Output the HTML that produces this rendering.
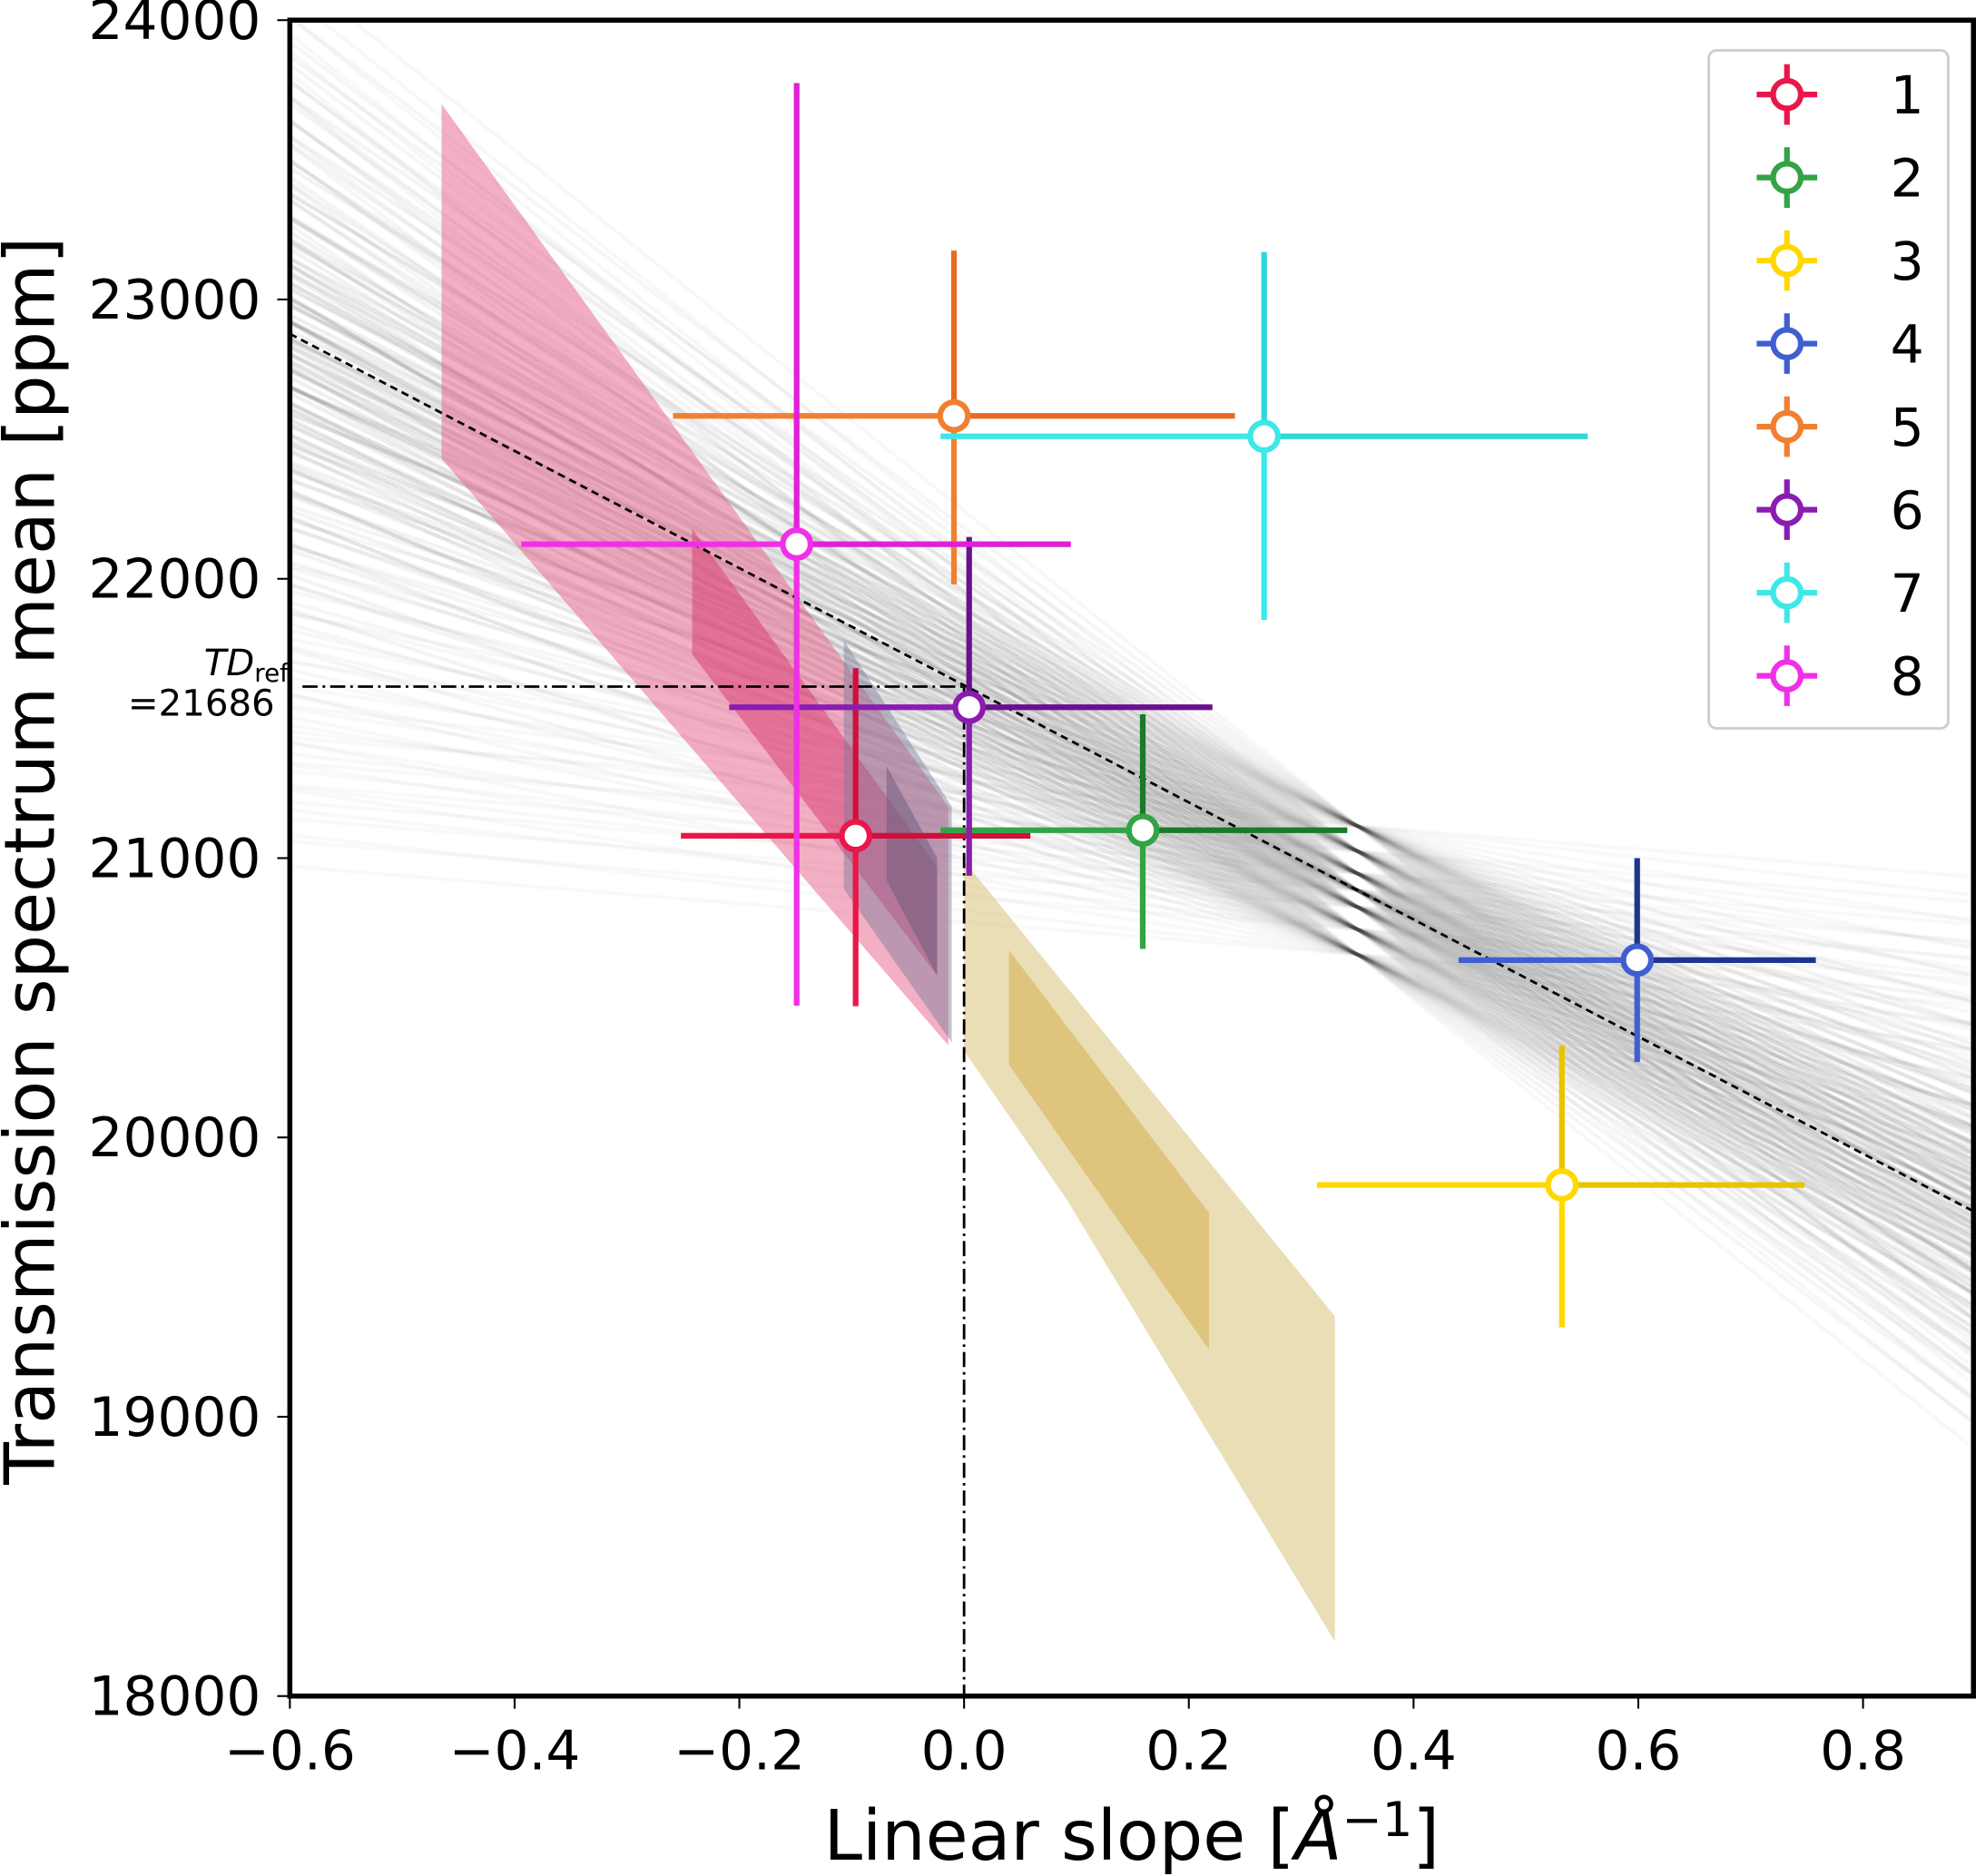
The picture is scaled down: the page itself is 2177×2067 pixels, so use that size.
<!DOCTYPE html>
<html><head><meta charset="utf-8"><style>html,body{margin:0;padding:0;background:#fff}svg{display:block}text{font-family:"DejaVu Sans","Liberation Sans",sans-serif}</style></head>
<body>
<svg id="chart" width="2177" height="2067" viewBox="0 0 1568 1488.8" xmlns="http://www.w3.org/2000/svg">
<defs><clipPath id="clip"><rect x="230" y="16" width="1336" height="1330"/></clipPath></defs>
<g id="bg" clip-path="url(#clip)"></g>
<g id="regions" clip-path="url(#clip)"></g>
<g id="refs"></g>
<g id="points"></g>
<g id="axes"></g>
<g id="legend"></g>
</svg>
<script>
const xTicks=[-0.6,-0.4,-0.2,0.0,0.2,0.4,0.6,0.8];
const yTicks=[18000,19000,20000,21000,22000,23000,24000];
const labels=["1","2","3","4","5","6","7","8"];
const colors=["#e8174a","#33a345","#ffd800","#3f5fd0","#f08030","#8a1cb0","#3fe8e8","#f030e8"];
const darkColors=["#d0103c","#1a7a28","#e8c400","#1e3590","#e86a20","#6a0f8f","#30d8d8","#e020d8"];
const xVals=[-0.0965,0.159,0.532,0.599,-0.009,0.0045,0.267,-0.149];
const yVals=[21080,21100,19830,20635,22583,21540,22510,22124];
const xLo=[-0.252,-0.021,0.314,0.440,-0.259,-0.209,-0.021,-0.394];
const xHi=[0.059,0.341,0.748,0.758,0.241,0.221,0.555,0.095];
const yLo=[20470,20675,19320,20270,21980,20937,21853,20472];
const yHi=[21680,21515,20330,21000,23175,22150,23170,23775];
const fitLine=[[-0.6,22877],[0.9,19732]];
const tdRef=21614, tdLabel="=21686";
const sampleSlopes=[-3226,-3050,-2900,-2750,-2600,-2480,-2380,-2290,-2210,-2140,-2080,-2020,-1960,-1900,-1830,-1750,-1650,-1550,-1430,-1300,-1150,-980,-800,-620,-450,-332];
const sampleOffsets=[-230,-140,-60,0,60,140,230];
const pinkOuter=[[-0.465,23700],[-0.014,21185],[-0.014,20330],[-0.465,22430]];
const pinkInner=[[-0.242,22180],[-0.024,20970],[-0.024,20580],[-0.242,21730]];
const grayOuter=[[-0.107,21780],[-0.011,21185],[-0.011,20340],[-0.107,20890]];
const grayInner=[[-0.069,21330],[-0.024,21000],[-0.024,20580],[-0.069,20920]];
const tanOuter=[[0.0,20990],[0.330,19360],[0.330,18195],[0.091,19780],[0.0,20310]];
const tanInner=[[0.040,20670],[0.218,19730],[0.218,19240],[0.040,20260]];
const NS="http://www.w3.org/2000/svg";
const X=v=>230+(v+0.6)*891.7, Y=v=>16+(24000-v)*0.22167;
function mk(tag,attrs,parent){const e=document.createElementNS(NS,tag);for(const k in attrs)e.setAttribute(k,attrs[k]);parent.appendChild(e);return e;}
const bg=document.getElementById('bg');
sampleSlopes.forEach((s,i)=>{sampleOffsets.forEach(o=>{const a=20885+o;const w=1-Math.abs(s+2050)/1300;
const l=mk('line',{x1:X(-0.6),y1:Y(a+s*(-0.95)),x2:X(0.9),y2:Y(a+s*0.55),stroke:'#000','stroke-opacity':(0.025+0.04*Math.max(w,0)).toFixed(3),'stroke-width':3},bg);

});});
const reg=document.getElementById('regions');
function poly(pts,fill,op,name){const p=mk('polygon',{points:pts.map(q=>X(q[0])+','+Y(q[1])).join(' '),fill:fill,'fill-opacity':op},reg);

}
poly(tanOuter,'#d9c27a',0.55,'tan-region-outer');
poly(tanInner,'#d4ae4e',0.55,'tan-region-inner');
poly(pinkOuter,'#e8608a',0.5,'pink-region-outer');
poly(pinkInner,'#d83870',0.5,'pink-region-inner');
poly(grayOuter,'#7a7a9a',0.45,'gray-region-outer');
poly(grayInner,'#6a5a7a',0.5,'gray-region-inner');
const refs=document.getElementById('refs');
let fl=mk('line',{x1:X(fitLine[0][0]),y1:Y(fitLine[0][1]),x2:X(fitLine[1][0]),y2:Y(fitLine[1][1]),stroke:'#000','stroke-width':2,'stroke-dasharray':'6,4'},refs);

let hl=mk('line',{x1:240,y1:Y(tdRef),x2:X(0),y2:Y(tdRef),stroke:'#000','stroke-width':2,'stroke-dasharray':'12,4,2,4'},refs);

let vl=mk('line',{x1:X(0),y1:Y(tdRef),x2:X(0),y2:1346,stroke:'#000','stroke-width':2,'stroke-dasharray':'12,4,2,4'},refs);

let t1=mk('text',{x:229,y:536,'text-anchor':'end','font-size':29},refs);
t1.innerHTML='<tspan font-style="italic">TD</tspan><tspan font-size="20" dy="5">ref</tspan>';

let t2=mk('text',{x:218,y:568,'text-anchor':'end','font-size':29},refs);t2.textContent=tdLabel;

const pts=document.getElementById('points');
labels.forEach((lb,i)=>{const g=mk('g',{},pts);


const cx=X(xVals[i]),cy=Y(yVals[i]);
mk('line',{x1:X(xLo[i]),y1:cy,x2:cx,y2:cy,stroke:colors[i],'stroke-width':4.5},g);
mk('line',{x1:cx,y1:cy,x2:X(xHi[i]),y2:cy,stroke:darkColors[i],'stroke-width':4.5},g);
mk('line',{x1:cx,y1:Y(yHi[i]),x2:cx,y2:cy,stroke:darkColors[i],'stroke-width':4.5},g);
mk('line',{x1:cx,y1:cy,x2:cx,y2:Y(yLo[i]),stroke:colors[i],'stroke-width':4.5},g);
const c=mk('circle',{cx:cx,cy:cy,r:11,fill:'#fff',stroke:colors[i],'stroke-width':4.5},g);

});
const ax=document.getElementById('axes');
let fr=mk('rect',{x:230,y:16,width:1336,height:1330,fill:'none',stroke:'#000','stroke-width':4},ax);

xTicks.forEach(v=>{mk('line',{x1:X(v),y1:1346,x2:X(v),y2:1356,stroke:'#000','stroke-width':1.5},ax);
const t=mk('text',{x:X(v),y:1404,'text-anchor':'middle','font-size':43},ax);t.textContent=(v<0?'\u2212':'')+Math.abs(v).toFixed(1);
});
yTicks.forEach(v=>{mk('line',{x1:220,y1:Y(v),x2:230,y2:Y(v),stroke:'#000','stroke-width':1.5},ax);
const t=mk('text',{x:207,y:Y(v)+15,'text-anchor':'end','font-size':43},ax);t.textContent=v;
});
let xl=mk('text',{x:898,y:1476,'text-anchor':'middle','font-size':55},ax);
xl.innerHTML='Linear slope [<tspan font-style="italic">Å</tspan><tspan font-size="38" dy="-19">\u22121</tspan><tspan dy="19">]</tspan>';

let yl=mk('text',{x:0,y:0,'text-anchor':'middle','font-size':55,transform:'translate(43,683) rotate(-90)'},ax);
yl.textContent='Transmission spectrum mean [ppm]';

const lg=document.getElementById('legend');
let lb=mk('rect',{x:1356,y:40,width:190,height:538,rx:6,fill:'#fff','fill-opacity':0.8,stroke:'#ccc','stroke-width':2},lg);

labels.forEach((l,i)=>{const y=75+i*65.9;const g=mk('g',{},lg);


mk('line',{x1:1394,y1:y,x2:1442,y2:y,stroke:colors[i],'stroke-width':4.5},g);
mk('line',{x1:1418,y1:y-24,x2:1418,y2:y+24,stroke:colors[i],'stroke-width':4.5},g);
mk('circle',{cx:1418,cy:y,r:11,fill:'#fff',stroke:colors[i],'stroke-width':4.5},g);
const t=mk('text',{x:1500,y:y+15,'font-size':42},g);t.textContent=l;});
</script>
</body></html>
